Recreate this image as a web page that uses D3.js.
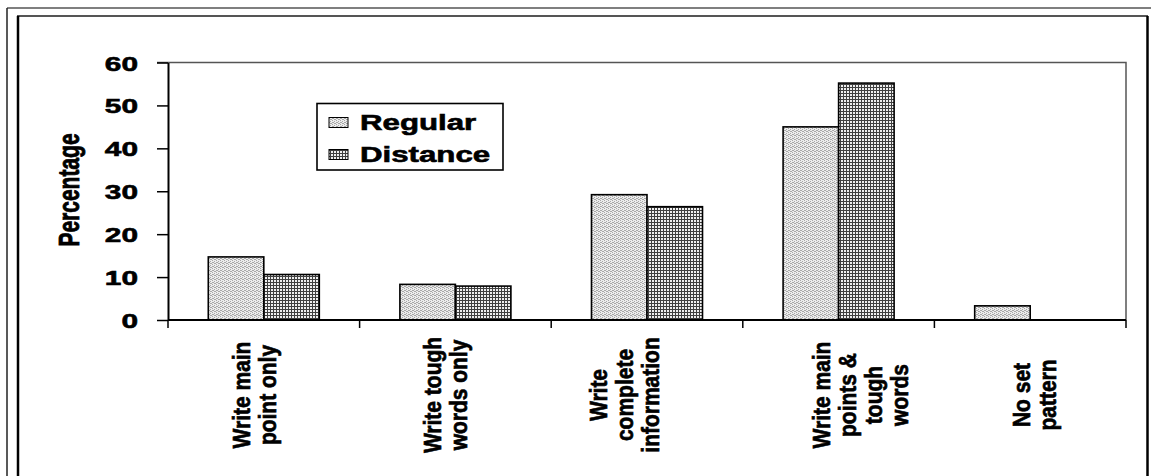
<!DOCTYPE html>
<html>
<head>
<meta charset="utf-8">
<script src="https://cdn.jsdelivr.net/npm/d3@7"></script>
<style>
  html, body { margin: 0; padding: 0; background: #fff; }
  svg { display: block; }
  text { font-family: "Liberation Sans", Arial, sans-serif; font-weight: bold; fill: #000;
         stroke: #000; stroke-width: 0.6px; }
</style>
</head>
<body>
<svg id="chart" width="1151" height="476"></svg>
<script>
// Note-taking style by learner group (percent)
const categories = [
  ["Write main", "point only"],
  ["Write tough", "words only"],
  ["Write", "complete", "information"],
  ["Write main", "points &", "tough", "words"],
  ["No set", "pattern"]
];
const seriesNames = ["Regular", "Distance"];
const regular  = [14.7, 8.3, 29.2, 45.0, 3.3];
const distance = [10.6, 7.9, 26.4, 55.2, 0];
const yTicks = [0, 10, 20, 30, 40, 50, 60];

const W = 1151, H = 476;
const plot = { left: 168, right: 1126, top: 62.5, bottom: 320 };
const SX = 1.42;                           // horizontal stretch applied to horizontal lettering
const SXR = 1.15;                          // stretch for rotated category labels
const labelShift = [-10, -10, -23, 22, 4]; // horizontal nudge of each category's label block
const lineStep = 26;                       // spacing between stacked label lines

const svg = d3.select("#chart");
svg.append("rect").attr("width", W).attr("height", H).attr("fill", "#fff");

// Fill patterns
const defs = svg.append("defs");
const pReg = defs.append("pattern").attr("id", "pat-regular")
  .attr("patternUnits", "userSpaceOnUse").attr("width", 4).attr("height", 4);
pReg.append("rect").attr("width", 4).attr("height", 4).attr("fill", "#ececec");
[[0,0],[2,1],[1,2],[3,3],[2,3],[0,2]].forEach(([px,py]) =>
  pReg.append("rect").attr("x", px).attr("y", py).attr("width", 1).attr("height", 1).attr("fill", "#a8a8a8"));

const pDist = defs.append("pattern").attr("id", "pat-distance")
  .attr("patternUnits", "userSpaceOnUse").attr("width", 3).attr("height", 3);
pDist.append("rect").attr("width", 3).attr("height", 3).attr("fill", "#f0f0f0");
pDist.append("rect").attr("x", 0).attr("y", 0).attr("width", 3).attr("height", 1).attr("fill", "#404040");
pDist.append("rect").attr("x", 0).attr("y", 0).attr("width", 1).attr("height", 3).attr("fill", "#404040");

const fills = { Regular: "url(#pat-regular)", Distance: "url(#pat-distance)" };

// Frames
svg.append("line").attr("x1", 7).attr("x2", W).attr("y1", 8).attr("y2", 8)
  .attr("stroke", "#555").attr("stroke-width", 1.5);
svg.append("line").attr("x1", 7).attr("x2", 7).attr("y1", 8).attr("y2", H)
  .attr("stroke", "#222").attr("stroke-width", 1.5);
svg.append("line").attr("x1", 17).attr("x2", 1148).attr("y1", 16).attr("y2", 16)
  .attr("stroke", "#555").attr("stroke-width", 2);
svg.append("line").attr("x1", 18).attr("x2", 18).attr("y1", 16).attr("y2", H)
  .attr("stroke", "#000").attr("stroke-width", 2.5);
svg.append("line").attr("x1", 1147.5).attr("x2", 1147.5).attr("y1", 16).attr("y2", H)
  .attr("stroke", "#000").attr("stroke-width", 2.5);

// Scales
const keys = categories.map((c, i) => String(i));
const x = d3.scaleBand().domain(keys).range([plot.left, plot.right]).padding(0);
const xs = d3.scaleBand().domain(seriesNames).range([0, x.bandwidth()])
  .paddingInner(0).paddingOuter(0.726);
const y = d3.scaleLinear().domain([0, 60]).range([plot.bottom, plot.top]);

// Plot frame (top and right edges)
svg.append("path")
  .attr("d", `M${plot.left - 11},${y(60)}H${plot.right}V${plot.bottom}`)
  .attr("fill", "none").attr("stroke", "#555").attr("stroke-width", 1.5);

// Bars
const rows = keys.map((k, i) => ({ key: k, values: [
  { name: "Regular", v: regular[i] }, { name: "Distance", v: distance[i] }
]}));
const g = svg.append("g");
rows.forEach(r => {
  r.values.filter(d => d.v > 0).forEach(d => {
    g.append("rect")
      .attr("x", x(r.key) + xs(d.name))
      .attr("y", y(d.v))
      .attr("width", xs.bandwidth())
      .attr("height", y(0) - y(d.v))
      .attr("fill", fills[d.name])
      .attr("stroke", "#000").attr("stroke-width", 1.6);
  });
});

// Y axis
const yAxis = svg.append("g").attr("transform", `translate(${plot.left},0)`)
  .call(d3.axisLeft(y).tickValues(yTicks).tickSize(11).tickSizeOuter(0));
yAxis.select(".domain").attr("stroke", "#000").attr("stroke-width", 2);
yAxis.selectAll(".tick line").attr("stroke", "#000").attr("stroke-width", 1.5);
yAxis.selectAll(".tick text")
  .attr("x", 0).attr("dy", "0.36em")
  .attr("transform", `translate(-30,0) scale(${SX},1)`)
  .style("font-size", "21px").style("font-family", "'Liberation Sans', Arial, sans-serif")
  .style("font-weight", "bold").attr("fill", "#000");

// X axis with ticks on category boundaries
const xAxis = svg.append("g").attr("transform", `translate(0,${plot.bottom})`)
  .call(d3.axisBottom(x).tickSize(0).tickFormat(""));
xAxis.select(".domain").attr("stroke", "#000").attr("stroke-width", 2)
  .attr("d", `M${plot.left},0H${plot.right}`);
const bounds = keys.map(k => x(k)).concat([x.range()[1]]);
xAxis.selectAll(".bound").data(bounds).enter().append("line")
  .attr("class", "bound")
  .attr("x1", d => d).attr("x2", d => d).attr("y1", 0).attr("y2", 8)
  .attr("stroke", "#000").attr("stroke-width", 1.5);

// Category labels, rotated, lines stacked left to right
rows.forEach((r, i) => {
  const lines = categories[i];
  const cx = x(r.key) + x.bandwidth() / 2 + labelShift[i];
  lines.forEach((t, j) => {
    const off = (j - (lines.length - 1) / 2) * lineStep;
    svg.append("text")
      .attr("transform", `translate(${cx + off},395) scale(${SXR},1) rotate(-90)`)
      .attr("text-anchor", "middle").attr("dy", "0.36em")
      .style("font-size", "21px")
      .text(t);
  });
});

// Y axis title
svg.append("text")
  .attr("transform", `translate(68,190) scale(${SX},1) rotate(-90)`)
  .attr("text-anchor", "middle").attr("dy", "0.36em")
  .style("font-size", "21px")
  .text("Percentage");

// Legend
const lg = svg.append("g");
lg.append("rect").attr("x", 317).attr("y", 103.5).attr("width", 186).attr("height", 66.5)
  .attr("fill", "#fff").attr("stroke", "#000").attr("stroke-width", 1.6);
seriesNames.forEach((n, i) => {
  const cy = 122.5 + i * 32;
  lg.append("rect").attr("x", 329).attr("y", cy - 5).attr("width", 19).attr("height", 10)
    .attr("fill", fills[n]).attr("stroke", "#000").attr("stroke-width", 1);
  lg.append("text")
    .attr("transform", `translate(360,${cy}) scale(${SX},1)`)
    .attr("dy", "0.36em").style("font-size", "22px")
    .text(n);
});
</script>
</body>
</html>
